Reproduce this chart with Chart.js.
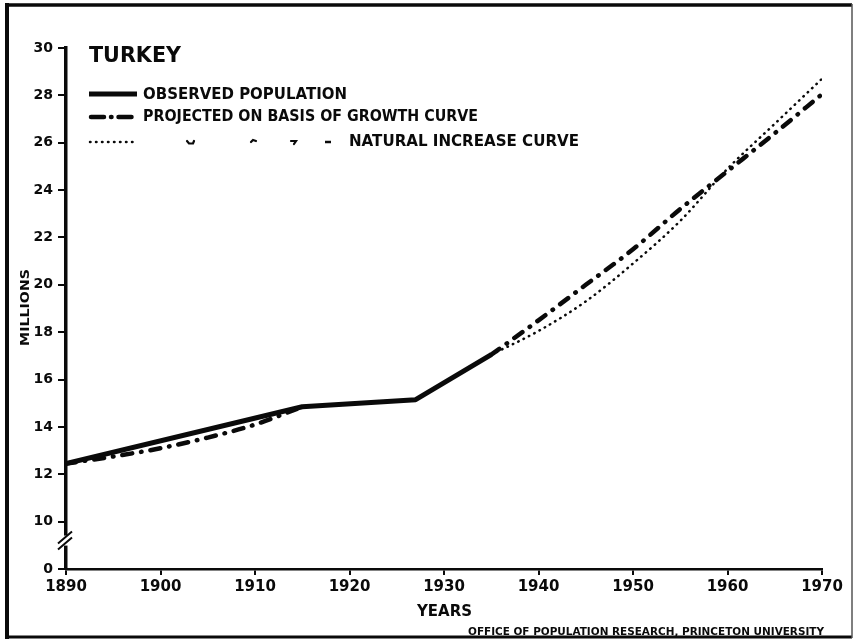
<!DOCTYPE html>
<html>
<head>
<meta charset="utf-8">
<script src="https://cdn.jsdelivr.net/npm/chart.js@4"></script>
<style>
  html, body { margin: 0; padding: 0; background: #fff; }
  #wrap { width: 854px; height: 641px; position: relative; }
</style>
</head>
<body>
<div id="wrap"><canvas id="c" width="854" height="641"></canvas></div>
<script>
// Population of Turkey, millions
const observedYears = [1890, 1915, 1927, 1935];
const observedValues = [12.45, 14.85, 15.15, 17.05];

// Projection on basis of growth curve (no line drawn where it runs under the observed one)
const growthYears = [1890, 1895, 1900, 1905, 1910, 1915, 1925, 1935, 1940, 1945, 1950, 1955, 1960, 1965, 1970];
const growthValues = [12.45, 12.75, 13.1, 13.55, 14.1, 14.85, null, 17.05, 18.5, 20.0, 21.5, 23.2, 24.8, 26.4, 28.05];

// Projection on basis of natural increase curve
const naturalYears = [1935, 1940, 1945, 1950, 1955, 1960, 1965, 1970];
const naturalValues = [17.05, 18.05, 19.3, 20.9, 22.7, 24.9, 26.8, 28.7];

// Axis ticks: the lowest tick stands for zero (the axis is broken below 10)
const yTickValues = [8, 10, 12, 14, 16, 18, 20, 22, 24, 26, 28, 30];
const yTickLabels = ['0', '10', '12', '14', '16', '18', '20', '22', '24', '26', '28', '30'];
const xTickYears = [1890, 1900, 1910, 1920, 1930, 1940, 1950, 1960, 1970];

const INK = '#0a0a0a';
const FONT = "'DejaVu Sans'";
const DASH_DOT = [10, 9, 0.5, 9];
const DOTS = [0.5, 5.5];

function points(xs, ys) { return xs.map((x, i) => ({ x: x, y: ys[i] })); }

// Draws text stretched or squeezed horizontally to a given width
function fitText(ctx, str, x, y, font, width) {
  ctx.font = font;
  const m = ctx.measureText(str).width;
  ctx.save();
  ctx.translate(x, y);
  ctx.scale(width / m, 1);
  ctx.textAlign = 'left';
  ctx.textBaseline = 'middle';
  ctx.fillText(str, 0, 0);
  ctx.restore();
}

function stroke(ctx, pts) {
  ctx.beginPath();
  ctx.moveTo(pts[0][0], pts[0][1]);
  for (let i = 1; i < pts.length; i++) ctx.lineTo(pts[i][0], pts[i][1]);
  ctx.stroke();
}

const decorations = {
  id: 'decorations',
  afterDraw(chart) {
    const ctx = chart.ctx;
    const ys = chart.scales.y;
    ctx.save();
    ctx.fillStyle = INK;
    ctx.strokeStyle = INK;

    // axis break marks
    const yb = ys.getPixelForValue(9.2);
    const xa = chart.chartArea.left;
    ctx.lineWidth = 2;
    ctx.fillStyle = '#fff';
    ctx.fillRect(xa - 3, yb - 5, 6, 10);
    ctx.fillStyle = INK;
    ctx.beginPath();
    ctx.moveTo(xa - 8, yb + 3); ctx.lineTo(xa + 6, yb - 9);
    ctx.moveTo(xa - 8, yb + 9); ctx.lineTo(xa + 6, yb - 3);
    ctx.stroke();

    // title
    fitText(ctx, 'TURKEY', 89, 56, 'bold 22px ' + FONT, 92);

    // legend rows
    ctx.lineCap = 'butt';
    ctx.lineWidth = 5;
    stroke(ctx, [[89, 94], [137, 94]]);
    fitText(ctx, 'OBSERVED POPULATION', 143, 95, 'bold 15px ' + FONT, 204);

    ctx.lineCap = 'round';
    ctx.lineWidth = 4.5;
    ctx.setLineDash([13, 7, 0.5, 7]);
    stroke(ctx, [[91, 117], [137, 117]]);
    ctx.setLineDash([]);
    fitText(ctx, 'PROJECTED ON BASIS OF GROWTH CURVE', 143, 117, 'bold 15px ' + FONT, 335);

    ctx.lineWidth = 2.5;
    ctx.setLineDash(DOTS);
    stroke(ctx, [[90, 142], [138, 142]]);
    ctx.setLineDash([]);

    // ditto marks under ON, BASIS OF, GROWTH
    ctx.lineWidth = 2.2;
    stroke(ctx, [[187, 141], [189, 143.5], [193, 143.5], [194, 141]]);
    stroke(ctx, [[251, 142], [253, 140], [256, 141]]);
    stroke(ctx, [[291, 141], [296, 141], [294, 144]]);
    ctx.lineWidth = 2.5;
    ctx.lineCap = 'butt';
    stroke(ctx, [[325, 142], [331, 142]]);
    fitText(ctx, 'NATURAL INCREASE CURVE', 349, 142, 'bold 15px ' + FONT, 230);

    // axis titles
    fitText(ctx, 'YEARS', 417, 612, 'bold 15px ' + FONT, 55);
    ctx.save();
    ctx.translate(26, 346);
    ctx.rotate(-Math.PI / 2);
    fitText(ctx, 'MILLIONS', 0, 0, 'bold 13px ' + FONT, 77);
    ctx.restore();

    // credit line
    fitText(ctx, 'OFFICE OF POPULATION RESEARCH, PRINCETON UNIVERSITY', 468, 632, 'bold 10px ' + FONT, 356);

    // frame
    ctx.lineCap = 'butt';
    ctx.lineWidth = 4;
    stroke(ctx, [[7, 3], [7, 639]]);
    ctx.lineWidth = 3.5;
    stroke(ctx, [[5, 5], [852, 5]]);
    ctx.lineWidth = 3;
    stroke(ctx, [[5, 637], [852, 637]]);
    ctx.lineWidth = 1.5;
    ctx.strokeStyle = '#555';
    stroke(ctx, [[852, 4], [852, 638]]);
    ctx.restore();
  }
};

new Chart(document.getElementById('c'), {
  type: 'line',
  data: {
    datasets: [
      {
        label: 'OBSERVED POPULATION',
        data: points(observedYears, observedValues),
        borderColor: INK,
        borderWidth: 5,
        borderJoinStyle: 'round',
        pointRadius: 0,
        tension: 0
      },
      {
        label: 'PROJECTED ON BASIS OF GROWTH CURVE',
        data: points(growthYears, growthValues),
        borderColor: INK,
        borderWidth: 4.5,
        borderDash: DASH_DOT,
        borderCapStyle: 'round',
        pointRadius: 0,
        spanGaps: false,
        cubicInterpolationMode: 'monotone'
      },
      {
        label: 'NATURAL INCREASE CURVE',
        data: points(naturalYears, naturalValues),
        borderColor: INK,
        borderWidth: 2.5,
        borderDash: DOTS,
        borderCapStyle: 'round',
        pointRadius: 0,
        cubicInterpolationMode: 'monotone'
      }
    ]
  },
  options: {
    responsive: false,
    animation: false,
    events: [],
    layout: { padding: { left: 0, right: 32, top: 48, bottom: 0 } },
    plugins: { legend: { display: false }, tooltip: { enabled: false }, title: { display: false } },
    scales: {
      x: {
        type: 'linear',
        min: 1890,
        max: 1970,
        afterFit(s) { s.height = 72; },
        afterBuildTicks(s) { s.ticks = xTickYears.map(v => ({ value: v })); },
        border: { display: true, color: INK, width: 2.5 },
        grid: { drawOnChartArea: false, drawTicks: true, tickLength: 6, color: INK, lineWidth: 2 },
        ticks: {
          color: INK,
          padding: 3,
          maxRotation: 0,
          font: { family: FONT, weight: 'bold', size: 15 },
          callback: v => String(v)
        }
      },
      y: {
        type: 'linear',
        min: 8,
        max: 30,
        afterFit(s) { s.width = 66; },
        afterBuildTicks(s) { s.ticks = yTickValues.map(v => ({ value: v })); },
        border: { display: true, color: INK, width: 3.5 },
        grid: { drawOnChartArea: false, drawTicks: true, tickLength: 8, color: INK, lineWidth: 2 },
        ticks: {
          color: INK,
          padding: 5,
          font: { family: FONT, weight: 'bold', size: 14 },
          callback: v => yTickLabels[yTickValues.indexOf(v)]
        }
      }
    }
  },
  plugins: [decorations]
});
</script>
</body>
</html>
